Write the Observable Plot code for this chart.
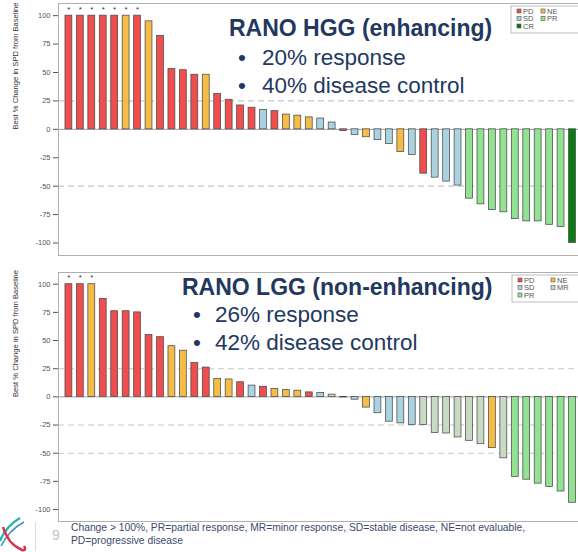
<!DOCTYPE html>
<html><head><meta charset="utf-8">
<script src="https://cdn.jsdelivr.net/npm/d3@7"></script>
<script src="https://cdn.jsdelivr.net/npm/@observablehq/plot@0.6"></script>
<style>
html,body{margin:0;padding:0;background:#fff;overflow:hidden;}
#root{position:relative;width:578px;height:552px;overflow:hidden;font-family:"Liberation Sans",Arial,sans-serif;background:#fff;}
.chart{position:absolute;left:0;max-width:none !important;}
#overlay{position:absolute;left:0;top:0;pointer-events:none;}
</style></head><body><div id="root"></div>
<script>
// ---- data ----
const hggValues = [100,100,100,100,100,100,100,95,82,53,52,48,48,31,26,21,19,17,16,13,12,10.5,9.5,6,-1.5,-5,-7,-9.5,-13,-20,-22.5,-39,-42.5,-46,-49.5,-61,-66,-71,-73,-79,-81,-81,-84,-86,-100];
const hggResponse = ["PD","PD","PD","PD","PD","NE","PD","NE","PD","PD","PD","PD","NE","PD","PD","PD","PD","SD","PD","NE","NE","NE","SD","SD","PD","SD","NE","SD","SD","NE","SD","PD","SD","SD","SD","PR","PR","PR","PR","PR","PR","PR","PR","PR","CR"];
const hggCappedCount = 7; // bars with change > 100% (marked *)
const lggValues = [100,100,100,87,76,76,75,55,53,45,41,30,26,16,15.5,13,10,9,7,6,5.5,4,3.5,2,-0.5,-2.5,-9.5,-14.5,-22,-23.5,-25,-25,-32,-32.5,-36,-39,-42,-45.5,-54.5,-71,-73.5,-77,-80,-84,-94];
const lggResponse = ["PD","PD","NE","PD","PD","PD","PD","PD","PD","NE","NE","PD","PD","NE","NE","PD","SD","PD","NE","NE","NE","PD","SD","MR","MR","SD","NE","SD","SD","SD","SD","MR","MR","MR","MR","MR","MR","NE","MR","PR","PR","PR","PR","PR","PR"];
const lggCappedCount = 3;
const yTicks = [100,75,50,25,0,-25,-50,-75,-100];
const hggDashed = [25,-50];
const lggDashed = [25,-25,-50];
const hggLegend = ["PD","NE","SD","PR","CR"];
const lggLegend = ["PD","NE","SD","MR","PR"];
const hggTitle = "RANO HGG (enhancing)";
const hggBullets = ["20% response","40% disease control"];
const lggTitle = "RANO LGG (non-enhancing)";
const lggBullets = ["26% response","42% disease control"];
const yLabel = "Best % Change in SPD from Baseline";
const footnote = ["Change > 100%, PR=partial response, MR=minor response, SD=stable disease, NE=not evaluable,","PD=progressive disease"];
const pageNumber = "9";

// ---- styles ----
const responseKeys = ["PD","NE","SD","PR","CR","MR"];
const responseFill = ["#f04e4e","#f5bd48","#a9d3e0","#92e292","#0b7a12","#c8dac3"];
const navy = "#22385f";

function waterfall(values, resp, capped, dashed, opts) {
  const data = values.map((v, i) => ({i, v, r: resp[i], cap: i < capped}));
  const n = values.length;
  return Plot.plot({
    width: 592, height: opts.height,
    marginLeft: 58, marginRight: 9, marginTop: opts.marginTop, marginBottom: 1,
    style: {fontFamily: "Liberation Sans, Arial, sans-serif", fontSize: "7.5px", color: "#555", background: "transparent", overflow: "visible", maxWidth: "none"},
    x: {domain: [-0.909, n - 1 + 0.96], axis: null},
    y: {domain: opts.domain, ticks: yTicks, tickFormat: d => String(d), tickSize: 5, tickPadding: 3, label: null},
    color: {domain: responseKeys, range: responseFill},
    marks: [
      Plot.ruleY(dashed, {stroke: "#c6c6c6", strokeDasharray: "6,4", strokeWidth: 1.1}),
      Plot.ruleY([0], {stroke: "#9c9c9c", strokeWidth: 1}),
      Plot.rectY(data, {x1: d => d.i - 0.3, x2: d => d.i + 0.3, y: "v", fill: "r", stroke: "#4a4a4a", strokeWidth: 0.75}),
      Plot.text(data.filter(d => d.cap), {x: "i", y: "v", text: () => "*", dy: -6.5, fontSize: 8, fill: "#333"}),
      Plot.text([yLabel], {frameAnchor: "left", dx: -43, rotate: -90, fontSize: 7.6, fill: "#333"}),
      Plot.frame({stroke: "#b0b0b0"})
    ]
  });
}

const root = document.getElementById("root");
const c1 = waterfall(hggValues, hggResponse, hggCappedCount, hggDashed, {height: 256, marginTop: 3, domain: [-111, 110.7]});
c1.classList.add("chart"); c1.style.top = "0px";
root.appendChild(c1);
const c2 = waterfall(lggValues, lggResponse, lggCappedCount, lggDashed, {height: 254, marginTop: 4, domain: [-110.6, 110.4]});
c2.classList.add("chart"); c2.style.top = "268px";
root.appendChild(c2);

// ---- overlay: titles, legends, footnote ----
const ns = "http://www.w3.org/2000/svg";
const ov = document.createElementNS(ns, "svg");
ov.setAttribute("id", "overlay");
ov.setAttribute("width", 578); ov.setAttribute("height", 552);
root.appendChild(ov);
function el(tag, attrs, text) {
  const e = document.createElementNS(ns, tag);
  for (const k in attrs) e.setAttribute(k, attrs[k]);
  if (text != null) e.textContent = text;
  ov.appendChild(e);
  return e;
}
function titleBlock(title, bullets, tx, ty, bx, txt, by) {
  el("text", {x: tx, y: ty, "font-size": 23, "font-weight": "bold", fill: navy}, title);
  bullets.forEach((b, k) => {
    el("text", {x: bx, y: by[k], "font-size": 22.5, fill: navy, "text-anchor": "middle"}, "•");
    el("text", {x: txt, y: by[k], "font-size": 22.5, fill: navy}, b);
  });
}
titleBlock(hggTitle, hggBullets, 229, 36, 242, 262, [65, 93]);
titleBlock(lggTitle, lggBullets, 182, 295, 197, 215, [322, 350]);

function legend(keys, x, y, h, col2) {
  el("rect", {x: x, y: y, width: 90, height: h, fill: "#fff", stroke: "#bdbdbd", "stroke-width": 1});
  keys.forEach((k, j) => {
    const col = j % 2, row = Math.floor(j / 2);
    const sx = x + (col ? col2 : 6), cy = y + 5 + row * 7.5;
    el("rect", {x: sx, y: cy - 2, width: 4, height: 4, fill: responseFill[responseKeys.indexOf(k)], stroke: "#555", "stroke-width": 0.6});
    el("text", {x: sx + 6, y: cy + 2.6, "font-size": 7.5, fill: "#555"}, k);
  });
}
legend(hggLegend, 511, 6, 27, 30);
legend(lggLegend, 512, 275, 27, 39);

// footnote and page number
footnote.forEach((t, k) => el("text", {x: 71, y: 531 + k * 12.5, "font-size": 10.3, fill: "#3b4a6b"}, t));
el("text", {x: 52, y: 540, "font-size": 14, fill: "#c4c4c4"}, pageNumber);
el("line", {x1: 35.5, x2: 35.5, y1: 522, y2: 551, stroke: "#dcdcdc", "stroke-width": 1});
// decorative logo swooshes
el("path", {d: "M0,541 Q6,526 20,518", fill: "none", stroke: "#2cb7ae", "stroke-width": 2.5});
el("path", {d: "M1,546 Q9,530 24,522", fill: "none", stroke: "#3b8ec4", "stroke-width": 1.5});
el("path", {d: "M3,527 Q8,544 22,550 Q27,551 24,546", fill: "none", stroke: "#d8344c", "stroke-width": 2.5});
</script></body></html>
